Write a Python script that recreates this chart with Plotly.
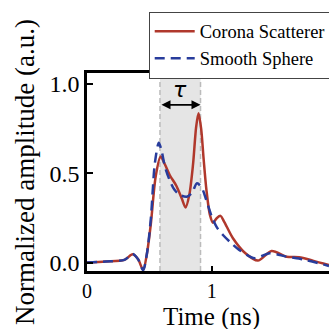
import plotly.graph_objects as go

# Data (time in ns, normalized amplitude)
t_corona = [0.0, 0.15, 0.30, 0.366, 0.41, 0.45, 0.48, 0.512, 0.55, 0.59, 0.625, 0.664, 0.717,
            0.76, 0.79, 0.82, 0.85, 0.875, 0.894, 0.915, 0.935, 0.957, 0.985, 1.01, 1.04, 1.07,
            1.10, 1.17, 1.27, 1.37, 1.48, 1.60, 1.70, 1.81, 1.94]
v_corona = [0.002, 0.008, 0.017, 0.048, 0.02, -0.04, 0.05, 0.22, 0.48, 0.594, 0.55, 0.49, 0.43,
            0.36, 0.31, 0.38, 0.55, 0.76, 0.836, 0.75, 0.58, 0.41, 0.27, 0.225, 0.25, 0.263,
            0.23, 0.138, 0.054, 0.013, 0.067, 0.035, 0.032, 0.013, -0.012]

t_sphere = [0.0, 0.15, 0.30, 0.366, 0.41, 0.45, 0.48, 0.512, 0.544, 0.576, 0.60, 0.624, 0.664,
            0.70, 0.744, 0.80, 0.84, 0.882, 0.92, 0.957, 1.0, 1.04, 1.09, 1.15, 1.22, 1.344,
            1.464, 1.60, 1.73, 1.85, 1.94]
v_sphere = [0.002, 0.008, 0.017, 0.05, 0.02, -0.04, 0.05, 0.25, 0.557, 0.672, 0.62, 0.54, 0.46,
            0.41, 0.38, 0.37, 0.39, 0.445, 0.42, 0.35, 0.26, 0.2, 0.156, 0.115, 0.073, 0.026,
            0.054, 0.035, 0.02, 0.0, -0.017]

tau_start, tau_end = 0.585, 0.91
x_ticks = [0, 1, 2]
y_ticks = [0.0, 0.5, 1.0]
y_ticklabels = ["0.0", "0.5", "1.0"]
x_title = "Time (ns)"
y_title = "Normalized amplitude (a.u.)"

RED = "#b0382c"
BLUE = "#283c9c"
SERIF = "Liberation Serif"

fig = go.Figure()
fig.add_trace(go.Scatter(x=t_corona, y=v_corona, mode="lines", name="Corona Scatterer",
                         line=dict(color=RED, width=2.5, shape="spline", smoothing=0.8)))
fig.add_trace(go.Scatter(x=t_sphere, y=v_sphere, mode="lines", name="Smooth Sphere",
                         line=dict(color=BLUE, width=2.5, shape="spline", smoothing=0.8,
                                   dash="10px,6px")))

# shaded tau band
fig.add_shape(type="rect", xref="x", yref="paper", x0=tau_start, x1=tau_end, y0=0, y1=1,
              fillcolor="#e5e5e5", line=dict(width=0), layer="below")
for xv in (tau_start, tau_end):
    fig.add_shape(type="line", xref="x", yref="paper", x0=xv, x1=xv, y0=0, y1=1,
                  line=dict(color="#bbbbbb", width=1.5, dash="5px,3px"), layer="below")

# double arrow + tau label
fig.add_annotation(x=tau_end, y=0.883, ax=tau_start, ay=0.883, xref="x", yref="y",
                   axref="x", ayref="y", text="", showarrow=True, arrowhead=2,
                   arrowside="end+start", arrowsize=1, arrowwidth=1.8, arrowcolor="black",
                   startarrowhead=2, startarrowsize=1)
fig.add_annotation(x=(tau_start + tau_end) / 2, y=0.97, xref="x", yref="y",
                   text="<i>τ</i>", showarrow=False,
                   font=dict(family="DejaVu Sans", size=22, color="black"))

# x-axis title (centred where the original full axis centre lies)
fig.add_annotation(x=1.0, y=-0.233, xref="x", yref="paper", text=x_title, showarrow=False,
                   xanchor="center", yanchor="middle",
                   font=dict(family=SERIF, size=25, color="black"))

fig.update_layout(
    width=329, height=329,
    margin=dict(l=87, r=0, t=73, b=58, autoexpand=False),
    paper_bgcolor="white", plot_bgcolor="white",
    font=dict(family=SERIF, color="black"),
    showlegend=True,
    legend=dict(x=0.255, y=1.31, xanchor="left", yanchor="top",
                bgcolor="white", bordercolor="#444444", borderwidth=1,
                font=dict(family=SERIF, size=18.5, color="black"),
                itemwidth=40, tracegroupgap=0),
)
fig.update_xaxes(range=[0, 1.94], tickvals=x_ticks, ticktext=[str(v) for v in x_ticks],
                 showline=True, linecolor="black", linewidth=2.5, mirror=True,
                 ticks="inside", ticklen=5, tickwidth=2, tickcolor="black",
                 showgrid=False, zeroline=False, automargin=False,
                 tickfont=dict(family=SERIF, size=20))
fig.update_yaxes(range=[-0.045, 1.061], tickvals=y_ticks, ticktext=y_ticklabels,
                 showline=True, linecolor="black", linewidth=2.5, mirror=False,
                 ticks="inside", ticklen=6, tickwidth=2, tickcolor="black",
                 showgrid=False, zeroline=False, automargin=False,
                 tickfont=dict(family=SERIF, size=24),
                 title=dict(text=y_title, font=dict(family=SERIF, size=27), standoff=8))

fig.write_html("out.html")
